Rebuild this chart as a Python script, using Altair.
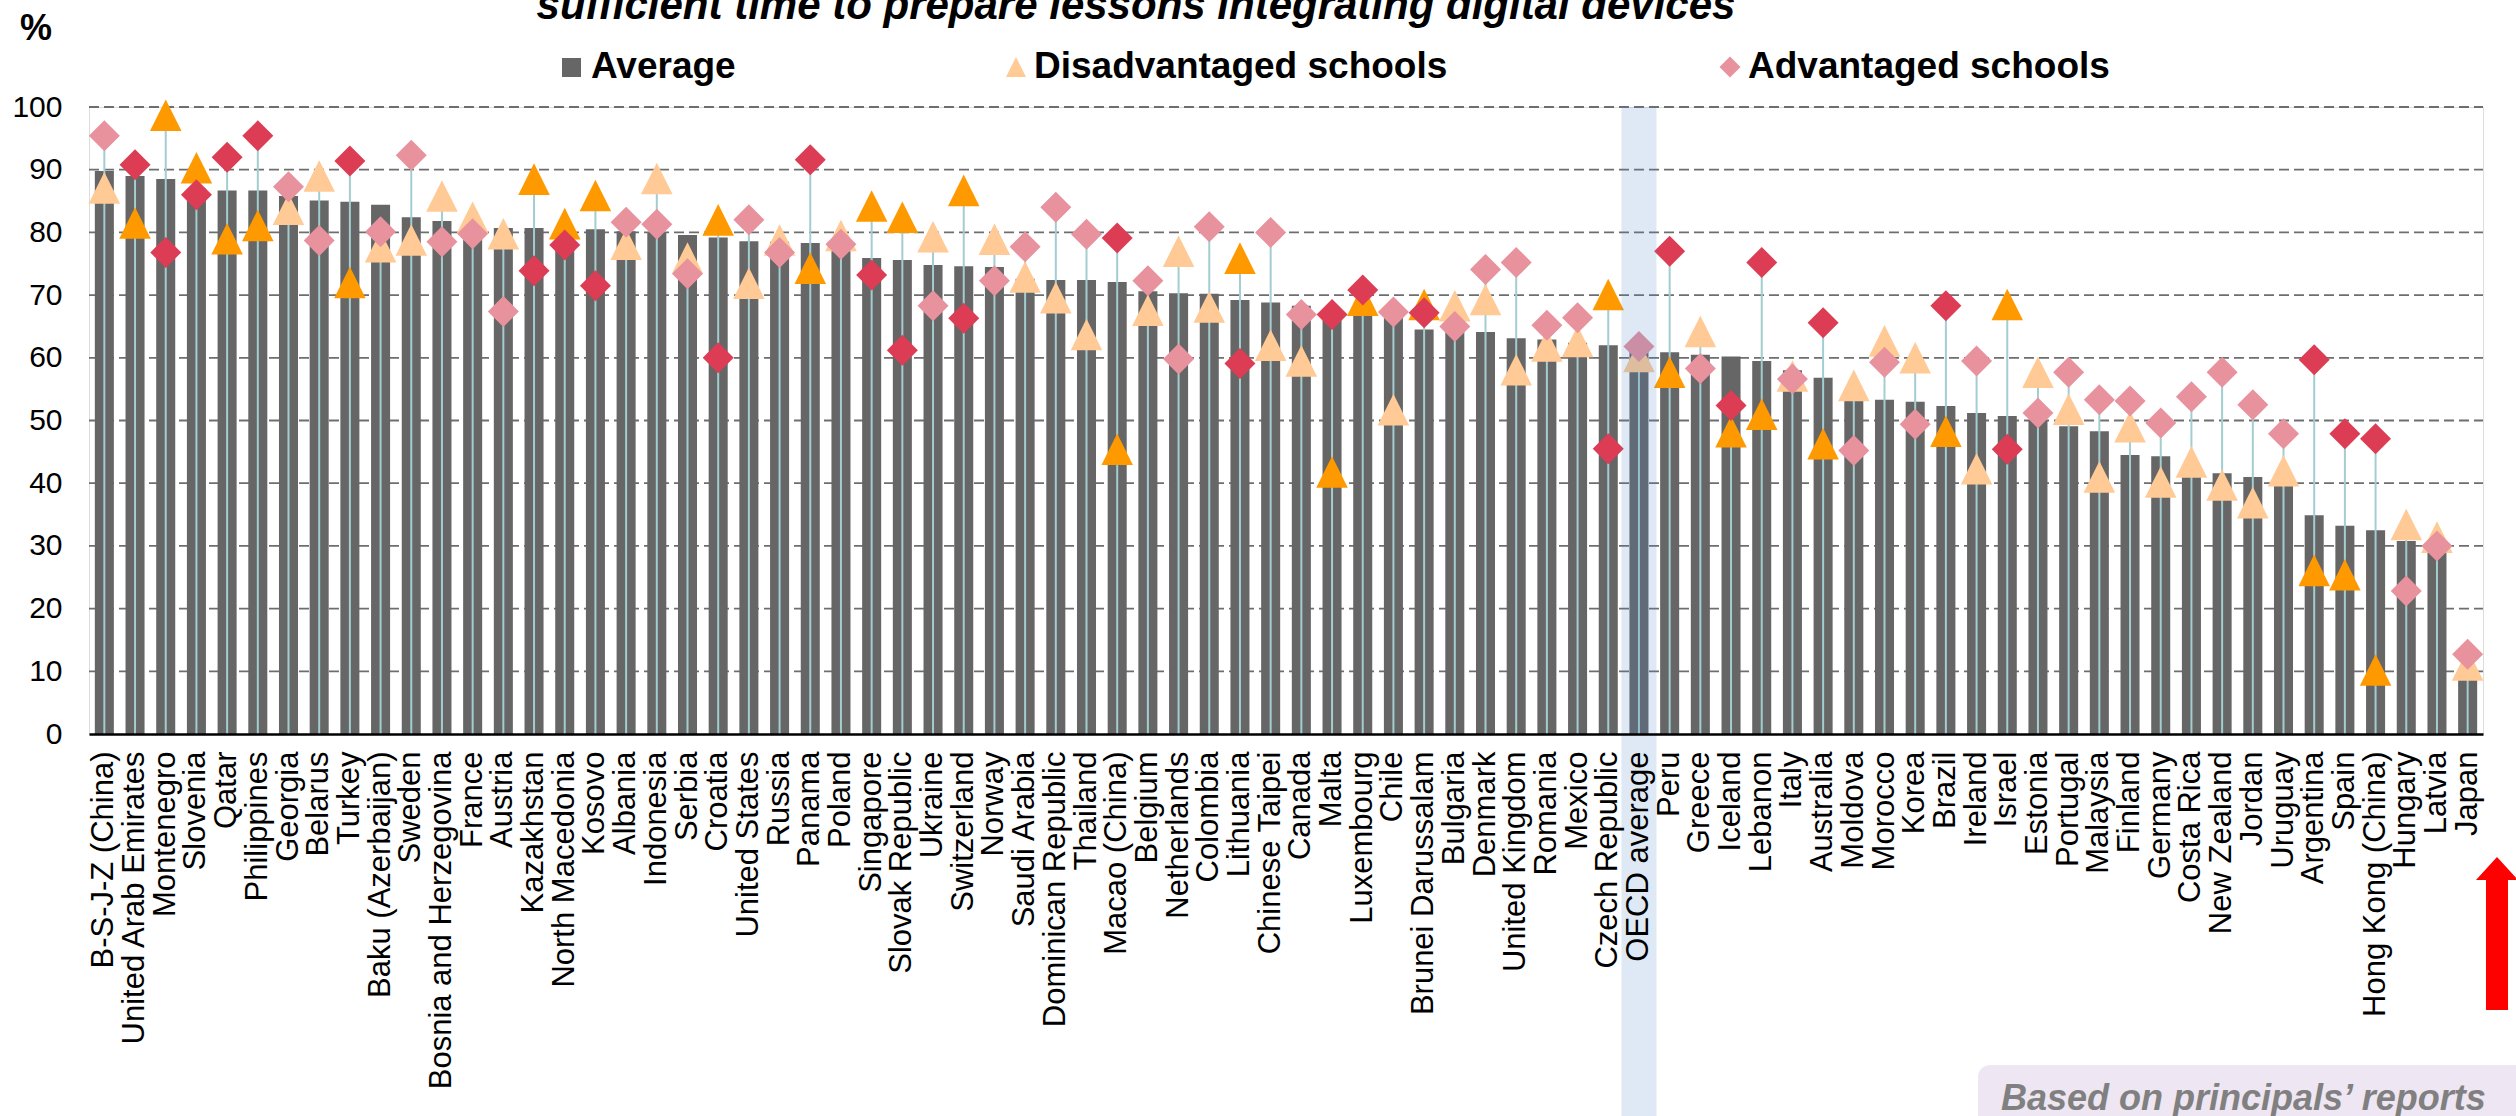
import altair as alt
import pandas as pd

countries = [
    "B-S-J-Z (China)", "United Arab Emirates", "Montenegro", "Slovenia", "Qatar",
    "Philippines", "Georgia", "Belarus", "Turkey", "Baku (Azerbaijan)",
    "Sweden", "Bosnia and Herzegovina", "France", "Austria", "Kazakhstan",
    "North Macedonia", "Kosovo", "Albania", "Indonesia", "Serbia",
    "Croatia", "United States", "Russia", "Panama", "Poland",
    "Singapore", "Slovak Republic", "Ukraine", "Switzerland", "Norway",
    "Saudi Arabia", "Dominican Republic", "Thailand", "Macao (China)", "Belgium",
    "Netherlands", "Colombia", "Lithuania", "Chinese Taipei", "Canada",
    "Malta", "Luxembourg", "Chile", "Brunei Darussalam", "Bulgaria",
    "Denmark", "United Kingdom", "Romania", "Mexico", "Czech Republic",
    "OECD average", "Peru", "Greece", "Iceland", "Lebanon",
    "Italy", "Australia", "Moldova", "Morocco", "Korea",
    "Brazil", "Ireland", "Israel", "Estonia", "Portugal",
    "Malaysia", "Finland", "Germany", "Costa Rica", "New Zealand",
    "Jordan", "Uruguay", "Argentina", "Spain", "Hong Kong (China)",
    "Hungary", "Latvia", "Japan",
]

average = [
    89.8, 89.0, 88.5, 87.0, 86.7, 86.7, 85.8, 85.1, 84.9, 84.4,
    82.4, 81.8, 80.8, 80.7, 80.7, 80.5, 80.5, 80.2, 79.9, 79.6,
    79.2, 78.6, 78.5, 78.3, 77.5, 75.9, 75.6, 74.8, 74.6, 74.5,
    72.6, 72.4, 72.4, 72.1, 70.6, 70.3, 70.2, 69.2, 68.8, 68.3,
    67.8, 67.3, 66.4, 64.5, 64.2, 64.1, 63.1, 62.9, 62.4, 62.0,
    61.5, 60.9, 60.5, 60.2, 59.5, 58.0, 56.8, 53.4, 53.3, 53.0,
    52.3, 51.2, 50.7, 50.1, 49.1, 48.3, 44.5, 44.3, 42.0, 41.6,
    41.0, 39.6, 34.9, 33.2, 32.5, 30.8, 29.3, 9.3,
]

disadvantaged = [
    87.1, 81.5, 98.7, 90.3, 79.0, 81.1, 83.7, 89.0, 72.0, 77.7,
    78.8, 85.8, 82.4, 79.8, 88.5, 81.4, 85.9, 78.1, 88.6, 75.9,
    82.0, 71.9, 78.8, 74.3, 79.5, 84.2, 82.4, 79.3, 86.7, 78.9,
    72.9, 69.6, 63.7, 45.4, 67.6, 77.0, 68.1, 75.9, 62.0, 59.5,
    41.8, 69.2, 51.7, 68.5, 68.3, 69.3, 58.1, 61.9, 62.6, 70.1,
    60.2, 57.7, 64.2, 48.2, 51.0, 57.1, 46.3, 55.6, 62.7, 60.0,
    48.3, 42.3, 68.5, 57.7, 51.8, 41.0, 49.0, 40.2, 43.4, 39.7,
    36.9, 42.0, 26.1, 25.4, 10.2, 33.4, 31.4, 11.0,
]

advantaged = [
    95.4, 90.8, 76.8, 86.0, 92.0, 95.4, 87.3, 78.7, 91.4, 80.1,
    92.3, 78.5, 79.8, 67.4, 73.9, 78.0, 71.5, 81.6, 81.3, 73.4,
    60.0, 82.0, 76.8, 91.6, 78.1, 73.2, 61.2, 68.3, 66.3, 72.3,
    77.7, 84.0, 79.7, 79.1, 72.3, 59.8, 80.9, 59.1, 80.0, 66.9,
    66.9, 70.8, 67.3, 67.2, 65.0, 74.1, 75.2, 65.2, 66.4, 45.5,
    61.8, 77.0, 58.3, 52.4, 75.2, 56.6, 65.6, 45.2, 59.3, 49.4,
    68.3, 59.5, 45.4, 51.2, 57.7, 53.3, 53.1, 49.6, 53.8, 57.7,
    52.5, 47.9, 59.7, 47.9, 47.1, 22.8, 30.0, 12.7,
]

# 1 = difference significant (dark markers), 0 = not significant (light markers)
significant = [
    0, 1, 1, 1, 1, 1, 0, 0, 1, 0,
    0, 0, 0, 0, 1, 1, 1, 0, 0, 0,
    1, 0, 0, 1, 0, 1, 1, 0, 1, 0,
    0, 0, 0, 1, 0, 0, 0, 1, 0, 0,
    1, 1, 0, 1, 0, 0, 0, 0, 0, 1,
    0, 1, 0, 1, 1, 0, 1, 0, 0, 0,
    1, 0, 1, 0, 0, 0, 0, 0, 0, 0,
    0, 0, 1, 1, 1, 0, 0, 0,
]

y_ticks = [0, 10, 20, 30, 40, 50, 60, 70, 80, 90, 100]
grid_values = [10, 20, 30, 40, 50, 60, 70, 80, 90, 100]

highlight = "OECD average"
title_line = "sufficient time to prepare lessons integrating digital devices"
legend_labels = ["Average", "Disadvantaged schools", "Advantaged schools"]
note_text = "Based on principals\u2019 reports"

df = pd.DataFrame({
    "country": countries,
    "avg": average,
    "dis": disadvantaged,
    "adv": advantaged,
    "sig": significant,
})

FONT = "Liberation Sans"
W, H = 2394, 627
PAD = {"left": 89, "top": 107, "right": 33, "bottom": 382}

BAR = "#666666"
TEAL = "#A3CDD0"
RED_D, RED_L = "#DD3D54", "#E8929E"
OR_D, OR_L = "#FF9900", "#FFCA96"
TRI = "M0,-1L1,1L-1,1Z"
ARROW = "M0,-1L0.275,-0.7L0.144,-0.7L0.144,1L-0.144,1L-0.144,-0.7L-0.275,-0.7Z"

xscale = alt.Scale(domain=countries, paddingInner=0.38, paddingOuter=0.19)
yscale = alt.Scale(domain=[0, 100], nice=False)

xaxis = alt.Axis(
    title=None, labelAngle=-90, labelFont=FONT, labelFontSize=31,
    labelColor="black", labelPadding=17, ticks=False, tickSize=0,
    labelLimit=600, labelOverlap=False, domainColor="black",
    domainWidth=2.5, grid=False, zindex=1,
)
yaxis = alt.Axis(
    title=None, values=y_ticks, labelFont=FONT,
    labelFontSize=30, labelColor="black", labelPadding=27, ticks=False,
    tickSize=0, domain=False, grid=False,
)


def xq():
    return alt.X("country:N", scale=xscale, axis=xaxis, title=None)


def yq(field):
    return alt.Y(field, scale=yscale, axis=yaxis, title=None)


base = alt.Chart(df)

grid = alt.Chart(pd.DataFrame({"g": grid_values})).mark_rule(
    color="#6E6E6E", strokeWidth=1.8, strokeDash=[10, 5]
).encode(y=yq("g:Q"), x=alt.value(0), x2=alt.value(W))

bars = base.mark_bar(color=BAR).encode(x=xq(), y=yq("avg:Q"))

rules = base.transform_calculate(
    top="max(datum.dis, datum.adv)", zero="0"
).mark_rule(color=TEAL, strokeWidth=2).encode(
    x=xq(), y=yq("top:Q"), y2="zero:Q"
)

tris = base.transform_calculate(
    c=f"datum.sig == 1 ? '{OR_D}' : '{OR_L}'"
).mark_point(shape=TRI, filled=True, size=995, opacity=1, strokeWidth=0).encode(
    x=xq(), y=yq("dis:Q"), color=alt.Color("c:N", scale=None)
)

dias = base.transform_calculate(
    c=f"datum.sig == 1 ? '{RED_D}' : '{RED_L}'"
).mark_point(shape="diamond", filled=True, size=961, opacity=1, strokeWidth=0).encode(
    x=xq(), y=yq("adv:Q"), color=alt.Color("c:N", scale=None)
)

band = base.transform_filter(alt.datum.country == highlight).mark_bar(
    width=35, color="#4A86C5", opacity=0.18
).encode(x=xq(), y=alt.value(0), y2=alt.value(1009))


def txt(s, x, y, size, weight="bold", style="normal", color="black", align="left"):
    return alt.Chart(pd.DataFrame({"t": [s]})).mark_text(
        font=FONT, fontSize=size, fontWeight=weight, fontStyle=style,
        color=color, align=align, baseline="alphabetic",
    ).encode(x=alt.value(x), y=alt.value(y), text="t:N")


def sym(shape, color, size, x, y):
    return alt.Chart(pd.DataFrame({"t": [0]})).mark_point(
        shape=shape, filled=True, size=size, color=color, opacity=1, strokeWidth=0
    ).encode(x=alt.value(x), y=alt.value(y))


title = txt(title_line, 1047, -88, 42, style="italic", align="center")
pct = txt("%", -69, -67, 36)

leg = [
    sym("square", BAR, 361, 482.5, -39.5),
    txt(legend_labels[0], 502, -29, 37),
    sym(TRI, OR_L, 400, 927, -40),
    txt(legend_labels[1], 945, -29, 37),
    sym("diamond", RED_L, 441, 1641, -40),
    txt(legend_labels[2], 1659, -29, 37),
]

note_box = alt.Chart(pd.DataFrame({"t": [0]})).mark_rect(
    color="#EEE6F2", cornerRadius=12
).encode(x=alt.value(1889), x2=alt.value(2470), y=alt.value(958), y2=alt.value(1060))
note = txt(note_text, 1912, 1003, 36, style="italic", color="#808080")

arrow = sym(ARROW, "#FF0000", 23409, 2408, 826.5)

chart = alt.layer(
    grid, bars, rules, tris, dias, band, title, pct, *leg, note_box, note, arrow
).properties(
    width=W, height=H,
    autosize=alt.AutoSizeParams(type="none"),
    padding=PAD,
).configure_view(strokeWidth=0, stroke="transparent").configure(background="white")

chart.save("out.html", embed_options={"renderer": "svg", "actions": False})
